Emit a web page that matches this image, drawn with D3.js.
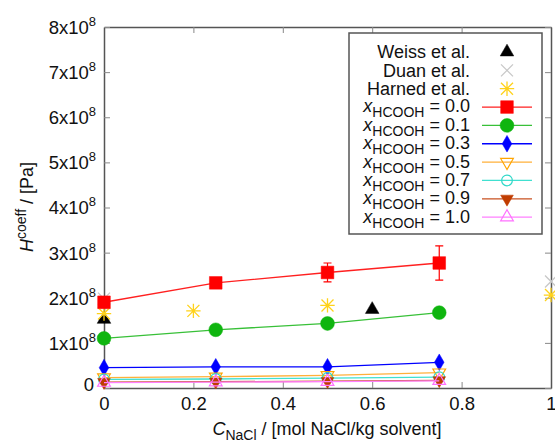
<!DOCTYPE html>
<html>
<head>
<meta charset="utf-8">
<script src="https://cdn.jsdelivr.net/npm/d3@7"></script>
<style>
  body { margin: 0; background: #fff; }
  svg { font-family: "Liberation Sans", Arial, sans-serif; }
</style>
</head>
<body>
<svg></svg>
<script>
const width = 555;
const height = 442;
const margin = { top: 27, right: 4, bottom: 54, left: 104 };

// concentration of NaCl, mol/kg
const concentrations = [0, 0.25, 0.5, 0.75];
// Henry coefficient per formic acid fraction, Pa
const h00 = [1.9e8, 2.33e8, 2.56e8, 2.77e8];
const err00 = [0.12e8, 0.03e8, 0.21e8, 0.38e8];
const h01 = [1.1e8, 1.29e8, 1.43e8, 1.67e8];
const h03 = [0.45e8, 0.47e8, 0.47e8, 0.57e8];
const h05 = [0.23e8, 0.25e8, 0.28e8, 0.34e8];
const h07 = [0.19e8, 0.2e8, 0.22e8, 0.24e8];
const h09 = [0.13e8, 0.14e8, 0.15e8, 0.17e8];
const h10 = [0.12e8, 0.13e8, 0.14e8, 0.16e8];

// literature
const weissX = [0, 0.6];
const weissY = [1.52e8, 1.74e8];
const duanX = [0, 1];
const duanY = [1.98e8, 2.36e8];
const harnedX = [0, 0.2, 0.5, 1];
const harnedY = [1.65e8, 1.71e8, 1.83e8, 2.06e8];

const xTicks = [0, 0.2, 0.4, 0.6, 0.8, 1];
const yTicks = [0, 1e8, 2e8, 3e8, 4e8, 5e8, 6e8, 7e8, 8e8];

const series = [
  { frac: "0.0", values: h00, errors: err00, color: "#ff0000", line: "#ff2020", marker: "square" },
  { frac: "0.1", values: h01, color: "#0fb50f", line: "#38c038", marker: "circle" },
  { frac: "0.3", values: h03, color: "#0000ff", line: "#0000ff", marker: "diamond" },
  { frac: "0.5", values: h05, color: "#ffa500", line: "#ffb03a", marker: "tridown-open" },
  { frac: "0.7", values: h07, color: "#30d8c8", line: "#40e0d0", marker: "circle-open" },
  { frac: "0.9", values: h09, color: "#c03c00", line: "#c85020", marker: "tridown" },
  { frac: "1.0", values: h10, color: "#ff70ff", line: "#ff80ff", marker: "triup-open" },
];

const svg = d3.select("svg").attr("width", width).attr("height", height);

const xScale = d3.scaleLinear().domain([0, 1])
  .range([margin.left, width - margin.right]);
const yScale = d3.scaleLinear().domain([0, 8e8])
  .range([height - margin.bottom, margin.top]);

const frameColor = "#555";

// axes, gnuplot style ticks pointing inward on all sides
const xAxis = svg.append("g")
  .attr("transform", `translate(0, ${height - margin.bottom})`)
  .call(d3.axisBottom(xScale).tickValues(xTicks).tickSizeInner(-6).tickSizeOuter(0)
    .tickPadding(9).tickFormat((d) => d3.format("")(d)));
const xTop = svg.append("g")
  .attr("transform", `translate(0, ${margin.top})`)
  .call(d3.axisTop(xScale).tickValues(xTicks).tickSizeInner(-6).tickSizeOuter(0).tickFormat(""));
const yAxis = svg.append("g")
  .attr("transform", `translate(${margin.left}, 0)`)
  .call(d3.axisLeft(yScale).tickValues(yTicks).tickSizeInner(-6).tickSizeOuter(0)
    .tickFormat(""));
const yRight = svg.append("g")
  .attr("transform", `translate(${width - margin.right}, 0)`)
  .call(d3.axisRight(yScale).tickValues(yTicks).tickSizeInner(-6).tickSizeOuter(0).tickFormat(""));

[xAxis, xTop, yAxis, yRight].forEach((g) => {
  g.select(".domain").attr("stroke", frameColor).attr("stroke-width", 1.5);
  g.selectAll(".tick line").attr("stroke", "#888");
});
xAxis.selectAll("text").attr("font-size", 18.5).attr("fill", "#111")
  .attr("font-family", "Liberation Sans, Arial, sans-serif");

// y tick labels as mantissa x 10^8
yAxis.selectAll(".tick").each(function (d) {
  const t = d3.select(this).append("text")
    .attr("x", -8).attr("dy", "0.35em")
    .attr("text-anchor", "end")
    .attr("font-size", 18.5).attr("fill", "#111");
  if (d === 0) {
    t.attr("x", -10).attr("dy", "0.15em").text("0");
  } else {
    t.append("tspan").text(`${d / 1e8}x10`);
    t.append("tspan").attr("dy", -8).attr("font-size", 13).text("8");
  }
});

// marker drawing
const symbols = {
  square: { type: d3.symbolSquare, size: 160, fill: true },
  circle: { type: d3.symbolCircle, size: 150, fill: true },
  diamond: { type: d3.symbolDiamond, size: 80, fill: true },
  "tridown-open": { type: d3.symbolTriangle, size: 70, fill: false, rot: 180 },
  "circle-open": { type: d3.symbolCircle, size: 90, fill: false },
  tridown: { type: d3.symbolTriangle, size: 70, fill: true, rot: 180 },
  "triup-open": { type: d3.symbolTriangle, size: 70, fill: false },
  triup: { type: d3.symbolTriangle, size: 80, fill: true },
};

const drawMarker = (g, kind, color, x, y) => {
  const s = symbols[kind];
  g.append("path")
    .attr("d", d3.symbol().type(s.type).size(s.size)())
    .attr("transform", `translate(${x}, ${y}) rotate(${s.rot || 0})`)
    .attr("fill", s.fill ? color : "none")
    .attr("stroke", color)
    .attr("stroke-width", s.fill ? 0.5 : 1.2);
};

const drawCross = (g, color, x, y, r) => {
  g.append("path")
    .attr("d", `M${x - r},${y - r}L${x + r},${y + r}M${x - r},${y + r}L${x + r},${y - r}`)
    .attr("stroke", color).attr("stroke-width", 1.3);
};

const drawStar = (g, color, x, y, r) => {
  g.append("path")
    .attr("d", `M${x - r},${y - r}L${x + r},${y + r}M${x - r},${y + r}L${x + r},${y - r}` +
      `M${x - r * 1.2},${y}L${x + r * 1.2},${y}M${x},${y - r * 1.2}L${x},${y + r * 1.2}`)
    .attr("stroke", color).attr("stroke-width", 1.3);
};

const plot = svg.append("g");

// literature data
weissX.forEach((x, i) => drawMarker(plot, "triup", "#000", xScale(x), yScale(weissY[i])));
duanX.forEach((x, i) => drawCross(plot, "#c8c8c8", xScale(x), yScale(duanY[i]), 6));
harnedX.forEach((x, i) => drawStar(plot, "#ffd21a", xScale(x), yScale(harnedY[i]), 6));

// simulation series
const line = d3.line().x((d) => xScale(d[0])).y((d) => yScale(d[1]));

series.forEach((s) => {
  const pts = concentrations.map((c, i) => [c, s.values[i]]);
  plot.append("path")
    .attr("d", line(pts))
    .attr("fill", "none")
    .attr("stroke", s.line)
    .attr("stroke-width", 1.3);
  if (s.errors) {
    pts.forEach((p, i) => {
      const x = xScale(p[0]);
      const y0 = yScale(p[1] - s.errors[i]);
      const y1 = yScale(p[1] + s.errors[i]);
      plot.append("path")
        .attr("d", `M${x},${y0}L${x},${y1}M${x - 4},${y0}L${x + 4},${y0}M${x - 4},${y1}L${x + 4},${y1}`)
        .attr("stroke", s.color).attr("stroke-width", 1.2).attr("fill", "none");
    });
  }
  pts.forEach((p) => drawMarker(plot, s.marker, s.color, xScale(p[0]), yScale(p[1])));
});

// legend
const legend = svg.append("g");
legend.append("rect")
  .attr("x", 349).attr("y", 33).attr("width", 193).attr("height", 201)
  .attr("fill", "#fff").attr("stroke", frameColor).attr("stroke-width", 1.5);

const rowY = (i) => 52 + i * 18.35;
const textX = 470;
const sampleX0 = 482;
const sampleX1 = 532;
const sampleMid = (sampleX0 + sampleX1) / 2;

const litLabels = ["Weiss et al.", "Duan et al.", "Harned et al."];
litLabels.forEach((lbl, i) => {
  legend.append("text")
    .attr("x", textX).attr("y", rowY(i)).attr("dy", "0.35em")
    .attr("text-anchor", "end").attr("font-size", 18).attr("fill", "#111")
    .text(lbl);
});
drawMarker(legend, "triup", "#000", sampleMid, rowY(0));
drawCross(legend, "#c8c8c8", sampleMid, rowY(1), 6);
drawStar(legend, "#ffd21a", sampleMid, rowY(2), 6);

series.forEach((s, j) => {
  const y = rowY(j + 3);
  const t = legend.append("text")
    .attr("x", textX).attr("y", y).attr("dy", "0.3em")
    .attr("text-anchor", "end").attr("font-size", 18).attr("fill", "#111");
  t.append("tspan").attr("font-style", "italic").text("x");
  t.append("tspan").attr("font-size", 14).attr("dy", 5).text("HCOOH");
  t.append("tspan").attr("dy", -5).text(` = ${s.frac}`);
  legend.append("line")
    .attr("x1", sampleX0).attr("x2", sampleX1).attr("y1", y).attr("y2", y)
    .attr("stroke", s.line).attr("stroke-width", 1.3);
  drawMarker(legend, s.marker, s.color, sampleMid, y);
});

// axis titles
const xTitle = svg.append("text")
  .attr("x", 327).attr("y", 435)
  .attr("text-anchor", "middle").attr("font-size", 18).attr("fill", "#111");
xTitle.append("tspan").attr("font-style", "italic").text("C");
xTitle.append("tspan").attr("font-size", 14).attr("dy", 5).text("NaCl");
xTitle.append("tspan").attr("dy", -5).text(" / [mol NaCl/kg solvent]");

const yTitle = svg.append("text")
  .attr("transform", "translate(33, 207) rotate(-90)")
  .attr("text-anchor", "middle").attr("font-size", 18).attr("fill", "#111");
yTitle.append("tspan").attr("font-style", "italic").text("H");
yTitle.append("tspan").attr("font-size", 14).attr("dy", -7).text("coeff");
yTitle.append("tspan").attr("dy", 7).text(" / [Pa]");
</script>
</body>
</html>
